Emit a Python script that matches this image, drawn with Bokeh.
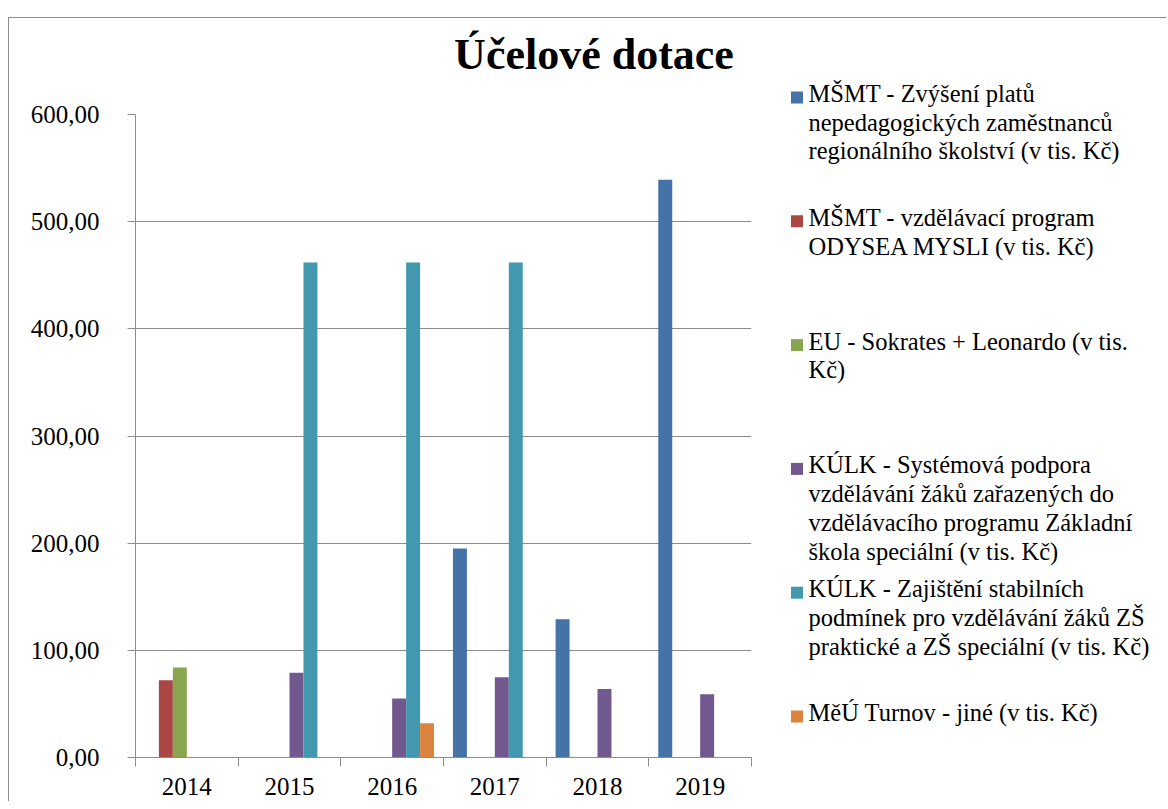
from bokeh.plotting import figure
from bokeh.models import ColumnDataSource, Range1d, FixedTicker, Spacer
from bokeh.layouts import row, column
from bokeh.core.properties import value
from bokeh.embed import file_html
from bokeh.resources import INLINE

# ---------------- data ----------------
title_text = "Účelové dotace"
years = ["2014", "2015", "2016", "2017", "2018", "2019"]

series_names = [
    "MŠMT - Zvýšení platů\nnepedagogických zaměstnanců\nregionálního školství (v tis. Kč)",
    "MŠMT - vzdělávací program\nODYSEA MYSLI (v tis. Kč)",
    "EU - Sokrates + Leonardo (v tis.\nKč)",
    "KÚLK - Systémová podpora\nvzdělávání žáků zařazených  do\nvzdělávacího programu Základní\nškola speciální (v tis. Kč)",
    "KÚLK - Zajištění stabilních\npodmínek pro vzdělávání žáků ZŠ\npraktické a ZŠ speciální (v tis. Kč)",
    "MěÚ Turnov  - jiné (v tis. Kč)",
]
colors = ["#4572A7", "#AA4643", "#89A54E", "#71588F", "#4198AF", "#DB843D"]

msmt_platy     = [None, None, None, 195, 129, 539]
msmt_odysea    = [72, None, None, None, None, None]
eu_sokrates    = [84, None, None, None, None, None]
kulk_podpora   = [None, 79, 55, 75, 64, 59]
kulk_zajisteni = [None, 462, 462, 462, None, None]
meu_turnov     = [None, None, 32, None, None, None]
series_values = [msmt_platy, msmt_odysea, eu_sokrates, kulk_podpora, kulk_zajisteni, meu_turnov]

y_ticks = [0, 100, 200, 300, 400, 500, 600]
y_tick_labels = ["0,00", "100,00", "200,00", "300,00", "400,00", "500,00", "600,00"]

# ---------------- styles ----------------
FONT = "Liberation Serif"
GLYPH_FONT = "'Liberation Serif', serif"
GREY = "#8c8c8c"
BW = 0.136  # bar width as fraction of a category


def blank(fig):
    fig.frame_align = False
    fig.axis.visible = False
    fig.grid.grid_line_color = None
    fig.outline_line_color = None


# ---------------- header with title (page-pixel coordinates) ----------------
hdr = figure(width=752, height=82, output_backend="svg", toolbar_location=None,
             x_range=Range1d(8, 760), y_range=Range1d(99, 17), min_border=0)
blank(hdr)
hdr.styles = {"border-left": f"1px solid {GREY}", "border-top": f"1px solid {GREY}"}
hdr.text(x=[592.5], y=[53], text=[title_text], text_font=value(GLYPH_FONT),
         text_font_size="44px", text_font_style="bold", text_align="center",
         text_baseline="alphabetic", text_color="black")

# ---------------- main chart ----------------
p = figure(width=752, height=702, output_backend="svg", toolbar_location=None,
           x_range=Range1d(0, len(years)), y_range=Range1d(0, 600),
           min_border_left=126, min_border_right=10, min_border_top=15,
           min_border_bottom=44)
p.frame_align = False
p.outline_line_color = None
p.background_fill_color = "white"
p.border_fill_color = "white"
p.styles = {"border-left": f"1px solid {GREY}"}

for j, vals in enumerate(series_values):
    xs, tops = [], []
    for i, v in enumerate(vals):
        if v is not None:
            xs.append(i + 0.5 + (j - 2.5) * BW)
            tops.append(v)
    src = ColumnDataSource(dict(x=xs, top=tops))
    p.vbar(x="x", top="top", bottom=0, width=BW, source=src,
           fill_color=colors[j], line_color=None)

# y axis
p.yaxis.ticker = FixedTicker(ticks=y_ticks)
p.yaxis.major_label_overrides = {t: l for t, l in zip(y_ticks, y_tick_labels)}
p.yaxis.major_tick_out = 8
p.yaxis.major_tick_in = 0
p.yaxis.major_tick_line_color = GREY
p.yaxis.minor_tick_line_color = None
p.yaxis.major_label_standoff = 28

# x axis
centers = [i + 0.5 for i in range(len(years))]
bounds = list(range(len(years) + 1))
p.xaxis.ticker = FixedTicker(ticks=centers, minor_ticks=bounds)
p.xaxis.major_label_overrides = {c: y for c, y in zip(centers, years)}
p.xaxis.major_tick_line_color = None
p.xaxis.major_tick_out = 0
p.xaxis.major_tick_in = 0
p.xaxis.minor_tick_line_color = GREY
p.xaxis.minor_tick_out = 9
p.xaxis.minor_tick_in = 0
p.xaxis.major_label_standoff = 11

for ax in (p.xaxis, p.yaxis):
    ax.axis_line_color = GREY
    ax.major_label_text_font = FONT
    ax.major_label_text_font_size = "25px"
    ax.major_label_text_color = "black"

p.xgrid.grid_line_color = None
p.ygrid.grid_line_color = GREY
p.ygrid.ticker = FixedTicker(ticks=y_ticks)

# ---------------- legend panel (page-pixel coordinates) ----------------
lg = figure(width=406, height=784, output_backend="svg", toolbar_location=None,
            x_range=Range1d(760, 1166), y_range=Range1d(801, 17), min_border=0)
blank(lg)
lg.styles = {"border-top": f"1px solid {GREY}"}

ITEM_STEP = 123.8
LINE_STEP = 28.7
FIRST_Y = 92
sq_x, sq_y, sq_c = [], [], []
tx, ty, tt = [], [], []
for k, name in enumerate(series_names):
    y0 = FIRST_Y + k * ITEM_STEP
    sq_x.append(796.5)
    sq_y.append(y0 + 4)
    sq_c.append(colors[k])
    for n, line in enumerate(name.split("\n")):
        tx.append(808)
        ty.append(y0 + n * LINE_STEP)
        tt.append(line)

lg.scatter(x=sq_x, y=sq_y, marker="square", size=12, fill_color=sq_c, line_color=None)
lg.text(x=tx, y=ty, text=tt, text_font=value(GLYPH_FONT), text_font_size="24.5px",
        text_baseline="middle", text_align="left", text_color="black")

layout = column(Spacer(height=17), row(Spacer(width=8), column(hdr, p), lg))

open("out.html", "w").write(file_html(layout, INLINE))
